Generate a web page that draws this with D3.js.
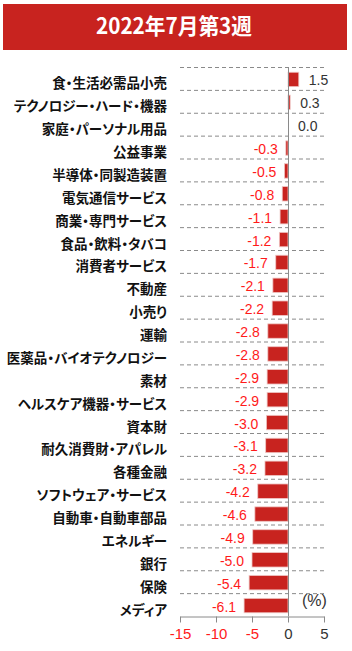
<!DOCTYPE html>
<html>
<head>
<meta charset="utf-8">
<script src="https://cdn.jsdelivr.net/npm/d3@7"></script>
<style>
  body { margin: 0; background: #fff; }
  svg { display: block; }
  .cat { font-feature-settings: "palt"; }
</style>
</head>
<body>
<svg id="chart" width="352" height="651"></svg>
<script>
var title = "2022年7月第3週";
var sectors = ["食・生活必需品小売", "テクノロジー・ハード・機器", "家庭・パーソナル用品", "公益事業",
  "半導体・同製造装置", "電気通信サービス", "商業・専門サービス", "食品・飲料・タバコ", "消費者サービス",
  "不動産", "小売り", "運輸", "医薬品・バイオテクノロジー", "素材", "ヘルスケア機器・サービス", "資本財",
  "耐久消費財・アパレル", "各種金融", "ソフトウェア・サービス", "自動車・自動車部品", "エネルギー",
  "銀行", "保険", "メディア"];
var changes = [1.5, 0.3, 0.0, -0.3, -0.5, -0.8, -1.1, -1.2, -1.7, -2.1, -2.2, -2.8, -2.8, -2.9, -2.9,
  -3.0, -3.1, -3.2, -4.2, -4.6, -4.9, -5.0, -5.4, -6.1];
var xTicks = [-15, -10, -5, 0, 5];

var svg = d3.select("#chart");
var margin = { top: 67, right: 28, bottom: 35, left: 180 };
var width = 352, height = 651;
var red = "#c8231f";
var fmt = v => d3.format(".1f")(v).replace("−", "-");

// title bar
svg.append("rect")
  .attr("x", 3).attr("y", 4)
  .attr("width", 344).attr("height", 46)
  .attr("fill", red);
svg.append("text")
  .attr("x", 96).attr("y", 34)
  .attr("textLength", 156)
  .attr("lengthAdjust", "spacingAndGlyphs")
  .attr("font-family", "'Noto Sans CJK JP', 'Liberation Sans', sans-serif")
  .attr("font-weight", "bold")
  .attr("font-size", "22px")
  .attr("fill", "#fff")
  .text(title);

var x = d3.scaleLinear()
  .domain([-15, 5])
  .range([margin.left, width - margin.right]);
var y = d3.scaleBand()
  .domain(sectors)
  .range([margin.top, height - margin.bottom])
  .paddingInner(0.37)
  .paddingOuter(0.185);
var step = y.step();

// dashed separators
svg.append("g")
  .selectAll("line")
  .data(sectors)
  .enter()
  .append("line")
  .attr("x1", x(-15))
  .attr("x2", x(5))
  .attr("y1", (d, i) => margin.top + i * step + 0.5)
  .attr("y2", (d, i) => margin.top + i * step + 0.5)
  .attr("stroke", "#8a8a8a")
  .attr("stroke-dasharray", "4,3");

// bars
svg.append("g")
  .selectAll("rect")
  .data(sectors)
  .enter()
  .append("rect")
  .attr("x", (d, i) => x(Math.min(0, changes[i])))
  .attr("y", d => y(d) + 1)
  .attr("width", (d, i) => Math.abs(x(changes[i]) - x(0)))
  .attr("height", y.bandwidth())
  .attr("fill", red)
  .attr("stroke", "#efc6c4")
  .attr("stroke-width", 0.8);

// zero line
svg.append("line")
  .attr("x1", x(0) + 0.5).attr("x2", x(0) + 0.5)
  .attr("y1", margin.top).attr("y2", height - margin.bottom)
  .attr("stroke", "#8a8a8a");

// x axis
var axis = svg.append("g")
  .attr("transform", `translate(0, ${height - margin.bottom + 0.5})`)
  .call(d3.axisBottom(x).tickValues(xTicks).tickFormat(d => String(d))
    .tickSize(6).tickSizeOuter(0).tickPadding(6));
axis.select(".domain").attr("stroke", "#8a8a8a");
axis.selectAll(".tick line").attr("stroke", "#8a8a8a");
axis.selectAll(".tick text")
  .attr("font-family", "'Liberation Sans', Arial, sans-serif")
  .attr("font-size", "15px")
  .attr("fill", d => d < 0 ? "#ff1a1a" : "#333");

// category labels
svg.append("g")
  .selectAll("text")
  .data(sectors)
  .enter()
  .append("text")
  .attr("class", "cat")
  .attr("x", 167)
  .attr("y", d => y(d) + y.bandwidth() / 2 + 4)
  .attr("dominant-baseline", "central")
  .attr("text-anchor", "end")
  .attr("font-family", "'Noto Sans CJK JP', sans-serif")
  .attr("font-weight", "bold")
  .attr("font-size", "13.5px")
  .attr("fill", "#111")
  .text(d => d);

// value labels
svg.append("g")
  .selectAll("text")
  .data(sectors)
  .enter()
  .append("text")
  .attr("x", (d, i) => changes[i] < 0 ? x(changes[i]) - 8 : x(changes[i]) + 10)
  .attr("y", d => y(d) + y.bandwidth() / 2 + 7)
  .attr("text-anchor", (d, i) => changes[i] < 0 ? "end" : "start")
  .attr("font-family", "'Liberation Sans', Arial, sans-serif")
  .attr("font-size", "14px")
  .attr("fill", (d, i) => changes[i] < 0 ? "#ff1a1a" : "#333")
  .text((d, i) => fmt(changes[i]));

// unit
svg.append("text")
  .attr("x", 302)
  .attr("y", 606)
  .attr("font-family", "'Liberation Sans', Arial, sans-serif")
  .attr("font-size", "16px")
  .attr("fill", "#333")
  .text("(%)");
</script>
</body>
</html>
